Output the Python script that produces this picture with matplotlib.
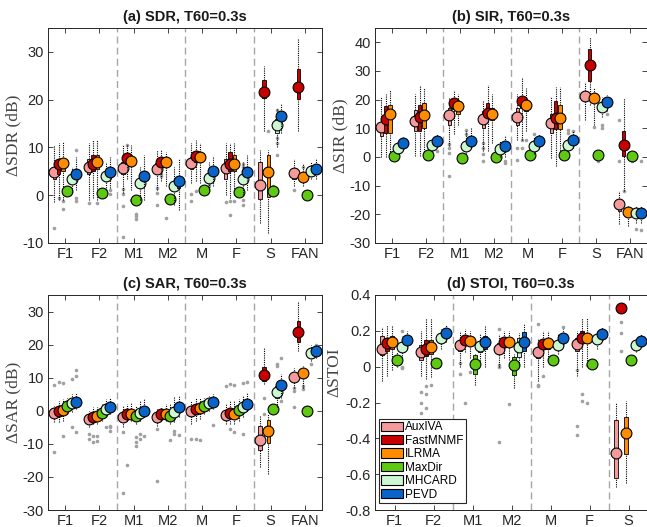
import numpy as np
import matplotlib
matplotlib.use('Agg')
import matplotlib.pyplot as plt
from matplotlib.patches import Patch

plt.rcParams['font.family'] = ['Liberation Sans', 'DejaVu Sans']

categories = ['F1', 'F2', 'M1', 'M2', 'M', 'F', 'S', 'FAN']
methods = ['AuxIVA', 'FastMNMF', 'ILRMA', 'MaxDir', 'MHCARD', 'PEVD']
colors = ['#f59a9a', '#c80000', '#ff8c00', '#5fc812', '#ccf7d2', '#0a64c8']

# (lo whisker, q1, median, q3, hi whisker) per method, per category
sdr = [
    [(-1.5, 3.5, 4.8, 6.0, 10.5), (-1, 4.5, 5.9, 7.5, 11), (0.5, 4.5, 5.6, 7.0, 10.5), (1, 4.5, 5.5, 6.8, 9.5),
     (2.5, 5.5, 6.8, 8.0, 11), (0, 3.5, 5.6, 7.5, 11), (-5.8, -0.8, 2.2, 7.0, 9.5), (2, 3.5, 4.7, 5.8, 7.5)],
    [(-1, 4.5, 6.5, 7.5, 11), (-0.5, 5, 6.6, 8.5, 11.5), (3.5, 6.5, 7.8, 8.5, 10.5), (3, 6, 7.0, 7.8, 9.5),
     (3, 7, 8.3, 9, 11.5), (-0.5, 5, 6.6, 9, 11), (13.5, 20.3, 21.6, 24.1, 27), (13.5, 20.1, 22.6, 26.4, 32.7)],
    [(-1, 5, 6.8, 7.5, 11.2), (-1, 5.5, 7.0, 8.5, 11.5), (1, 6.5, 7.2, 8.0, 10.5), (2, 6, 6.9, 7.5, 9),
     (2.5, 7, 8.1, 9, 11), (0, 5, 6.5, 8.5, 11), (-8, -0.4, 4.9, 8.4, 9.5), (2, 3, 3.8, 4.8, 6.5)],
    [(0, 0.5, 0.8, 1.2, 1.5), (0, 0.3, 0.5, 0.8, 1), (-1.5, -1.2, -1.0, -0.7, -0.3), (-1.5, -1, -0.7, -0.3, 0),
     (0.5, 0.8, 1.0, 1.3, 1.6), (0.2, 0.5, 0.7, 1.0, 1.3), (0.2, 0.5, 0.8, 1.0, 1.5), (-0.3, -0.1, 0.0, 0.1, 0.3)],
    [(0.5, 2.5, 3.3, 4.0, 6), (1, 3, 4.0, 5, 7), (-1, 1.5, 2.6, 3.5, 6), (-2, 1, 2.0, 3, 6),
     (1, 3, 3.7, 4.5, 7), (0, 2.5, 3.5, 4.5, 7), (10, 13, 14.6, 16, 18), (3.5, 4.5, 5.1, 5.8, 7)],
    [(1, 3.5, 4.5, 5.5, 8), (1.5, 4, 4.8, 5.5, 8), (-1, 3, 4.1, 5, 8.5), (-3, 1.5, 2.9, 4, 7.5),
     (2, 4, 5.0, 6, 8), (1, 4, 4.9, 6, 8.5), (13, 15.5, 16.5, 17.5, 19), (3.5, 4.7, 5.4, 6, 7.5)],
]
sir = [
    [(0, 7.5, 10.3, 12, 21), (0.5, 9, 12.4, 16.5, 22), (4, 11, 14.5, 17, 21), (2, 10, 13.4, 16, 20),
     (6, 11, 13.9, 17, 22), (-0.5, 8.5, 11.9, 15, 21), (13, 19.5, 21.2, 23, 26), (-23.5, -19, -16.3, -15, -12)],
    [(0, 8.4, 13.4, 17.7, 22), (0.5, 9, 14.0, 18, 25), (8, 16.6, 18.7, 20.3, 23.5), (2, 14.8, 15.4, 18.9, 25),
     (6, 17, 19.4, 21, 28), (-3, 9.6, 13.6, 19.5, 24.5), (18, 26.5, 32.0, 37.5, 42), (-12, 0.2, 4.1, 9, 20.5)],
    [(0.5, 8.4, 15.0, 18.3, 23.5), (1, 10.1, 14.5, 18.7, 24), (11, 15, 17.7, 19.5, 22), (5, 13, 14.9, 17, 22),
     (9, 16, 18.0, 20, 24), (0, 9.6, 13.6, 18, 24.5), (11, 19, 20.5, 22, 24), (-24, -21, -19.2, -18, -17)],
    [(-0.5, 0, 0.2, 0.5, 1), (0, 0.4, 0.7, 1, 1.5), (-1, -0.7, -0.4, -0.1, 0.3), (-0.8, -0.4, -0.1, 0.2, 0.6),
     (0, 0.4, 0.7, 1, 1.5), (0, 0.5, 0.8, 1.1, 1.5), (0, 0.5, 0.8, 1.1, 1.5), (-0.2, 0.2, 0.5, 0.8, 1.2)],
    [(1, 2.5, 3.3, 4, 5.5), (2.5, 3.5, 4.3, 5, 6), (1, 3, 4.0, 5, 9), (0, 2, 2.8, 3.5, 5.5),
     (1, 3, 4.0, 5, 7), (2, 3.3, 4.1, 5, 7), (14, 16.5, 17.5, 18.5, 21), (-23, -20.5, -19.6, -18.5, -17)],
    [(3, 4, 4.9, 5.8, 7), (3.5, 5, 5.7, 6.5, 8), (3, 4.8, 5.6, 6.5, 10.5), (0, 3, 3.7, 4.5, 7.5),
     (3, 5, 5.7, 6.5, 8), (3, 5, 5.9, 7, 9), (16, 18.2, 19.1, 20, 21.5), (-23, -20.5, -19.7, -18.5, -17)],
]
sar = [
    [(-3.5, -1.5, -0.6, 0.5, 1.5), (-5, -3.5, -2.4, -1.5, 0), (-5, -3, -2.0, -1, 1.5), (-4.5, -3, -2.0, -1, 0.5),
     (-4, -1.5, -0.2, 1, 3), (-4, -2.5, -1.4, -0.5, 2), (-17, -12, -8.8, -4.5, -1.5), (7, 9, 10.3, 11.5, 13)],
    [(-3.5, -1, 0.0, 1.5, 3), (-4, -3, -2.0, -1, 1), (-3, -2, -1.0, 0, 2), (-3, -2, -1.0, 0, 1),
     (-3, -0.5, 0.6, 2, 4), (-4, -1.5, -0.7, 0.5, 3), (8, 9.1, 10.7, 13.1, 19.2), (18, 20.9, 23.9, 27, 33)],
    [(-3, -1, 0.2, 1.5, 3.5), (-4, -2.5, -1.6, -0.5, 1), (-3, -2, -1.0, 0, 2.5), (-3, -2, -1.0, 0, 2),
     (-2.5, -0.5, 0.8, 2, 4), (-4, -2, -0.9, 0.5, 3), (-19, -9.6, -6.0, -2.8, -1), (7, 10, 11.5, 12.5, 13.5)],
    [(-1, 0.5, 1.5, 2.5, 4), (-3, -1.5, -0.6, 0.5, 2), (-4, -2.5, -1.6, -0.5, 1.5), (-4, -2.5, -1.5, -0.5, 2),
     (-1, 0.5, 1.5, 2.5, 4), (-3, -1, 0.1, 1.5, 3.5), (-0.5, 0.2, 0.6, 1.0, 1.5), (-0.5, -0.2, 0.0, 0.2, 0.5)],
    [(-0.5, 1.5, 2.4, 3.5, 5), (-1.5, -0.5, 0.5, 1.5, 3.5), (-3, -1.5, -0.8, 0.5, 3), (-3.5, -1.5, -0.4, 1, 4.5),
     (0, 1.5, 2.2, 3, 4.5), (-2, 0, 1.1, 2, 4.5), (1, 4, 5.7, 7.5, 9), (15, 16.5, 17.4, 18.5, 20)],
    [(0.5, 2, 2.8, 3.5, 5.5), (-1, 0.5, 1.2, 2, 4), (-2, -0.8, 0.0, 1, 3.5), (-2, 0, 1.1, 2, 4.5),
     (0.5, 2, 2.7, 3.5, 5), (0, 1, 1.9, 3, 5.5), (4, 6.5, 7.8, 9, 11), (16, 17.5, 18.2, 19, 20)],
]
stoi = [
    [(-0.08, 0.065, 0.10, 0.17, 0.22), (-0.05, 0.04, 0.08, 0.12, 0.2), (0.0, 0.09, 0.12, 0.15, 0.2), (0.0, 0.07, 0.10, 0.13, 0.18),
     (-0.08, 0.05, 0.08, 0.11, 0.16), (-0.05, 0.09, 0.125, 0.16, 0.2), (-0.67, -0.62, -0.48, -0.30, -0.2), (-0.3, -0.2, -0.15, -0.1, 0)],
    [(-0.05, 0.09, 0.13, 0.16, 0.23), (-0.07, 0.06, 0.10, 0.15, 0.27), (0.08, 0.13, 0.15, 0.17, 0.21), (0.05, 0.12, 0.14, 0.16, 0.2),
     (0.0, 0.1, 0.125, 0.15, 0.2), (0.0, 0.13, 0.16, 0.2, 0.27), (0.31, 0.32, 0.33, 0.34, 0.35), (0.1, 0.2, 0.25, 0.3, 0.35)],
    [(-0.02, 0.1, 0.14, 0.17, 0.23), (-0.06, 0.07, 0.11, 0.15, 0.27), (0.05, 0.12, 0.145, 0.17, 0.2), (0.04, 0.11, 0.135, 0.16, 0.2),
     (0.03, 0.1, 0.13, 0.15, 0.2), (0.02, 0.13, 0.16, 0.19, 0.27), (-0.65, -0.49, -0.37, -0.28, -0.19), (-0.3, -0.2, -0.15, -0.1, 0)],
    [(0.0, 0.02, 0.04, 0.06, 0.08), (0.0, 0.01, 0.02, 0.03, 0.05), (-0.1, -0.04, 0.015, 0.065, 0.07), (-0.12, -0.045, 0.01, 0.055, 0.07),
     (0.02, 0.03, 0.04, 0.05, 0.06), (0.0, 0.01, 0.015, 0.025, 0.04), (0.02, 0.03, 0.035, 0.04, 0.05), (0.0, 0.01, 0.02, 0.03, 0.04)],
    [(0.05, 0.09, 0.11, 0.13, 0.17), (0.1, 0.14, 0.16, 0.18, 0.21), (0.03, 0.08, 0.115, 0.14, 0.18), (0.0, 0.055, 0.11, 0.16, 0.19),
     (0.07, 0.1, 0.12, 0.14, 0.18), (0.1, 0.14, 0.155, 0.17, 0.2), (0.08, 0.1, 0.12, 0.14, 0.16), (-0.2, -0.1, -0.05, 0, 0.05)],
    [(0.1, 0.13, 0.15, 0.17, 0.2), (0.14, 0.17, 0.19, 0.2, 0.23), (0.0, 0.1, 0.14, 0.17, 0.23), (0.0, 0.085, 0.14, 0.195, 0.24),
     (0.12, 0.14, 0.16, 0.18, 0.21), (0.15, 0.17, 0.185, 0.2, 0.22), (0.11, 0.13, 0.145, 0.16, 0.18), (-0.2, -0.1, -0.05, 0, 0.05)],
]

# outliers: (category index, method index, value)
sdr_out = [(0, 0, -6.8), (0, 1, -0.5), (0, 2, -2.9), (0, 2, -1.3), (0, 5, -0.6), (0, 5, -1.3), (0, 5, 9.5),
           (1, 0, -1.7), (1, 2, -1.7), (1, 4, 0.5), (1, 5, 1.0), (1, 5, 0.3),
           (2, 0, -2.3), (2, 0, -8.8), (2, 0, 1.2), (2, 0, 0.3), (2, 1, 10.5), (2, 2, -1.0),
           (2, 3, -4.3), (2, 3, -5.0), (2, 3, -3.9), (2, 3, -1.2),
           (3, 0, -2.0), (3, 0, 0.5), (3, 0, 1.5), (3, 1, 4.5), (3, 1, 4.0), (3, 2, -4.7), (3, 2, -0.7), (3, 4, -1.0),
           (4, 0, -1.2), (4, 0, 0.3), (4, 1, 0.8), (4, 4, 2.5), (4, 4, 2.0),
           (5, 0, -1.5), (5, 1, -4.2), (5, 1, -1.3), (5, 2, -1.2), (5, 4, 6.5), (5, 4, 6.0), (5, 4, -1.0), (5, 4, -2.0),
           (6, 4, 17.8), (6, 4, 12.0), (6, 4, 11.0), (6, 4, 8.5), (6, 2, 13.5), (6, 3, 2.0),
           (7, 0, 1.0), (7, 0, 5.3), (7, 2, 6.0)]
sir_out = [(1, 5, 2.0), (2, 0, -6.8), (2, 0, 3.0), (2, 0, 4.5), (2, 0, 1.5), (2, 4, 9.5), (2, 4, 8.0), (2, 3, 1.0),
           (3, 0, -1.5), (3, 0, 1.0), (3, 0, 3.0), (3, 0, 5.0), (3, 5, -1.5), (3, 5, -2.0),
           (4, 0, -1.0), (4, 0, 3.0), (4, 1, 3.0), (4, 1, 6.0), (4, 2, 6.0), (4, 4, 8.0),
           (5, 4, 9.5), (5, 4, 8.5), (5, 3, -0.5), (5, 5, 9.0),
           (6, 2, 10.5), (6, 4, 10.0), (6, 4, 11.0), (6, 5, 15.0), (6, 3, -1.5),
           (7, 0, 13.0), (7, 0, -1.5), (7, 1, -12.0), (7, 3, -1.3), (7, 5, -1.5), (7, 5, -25.5), (7, 4, -25.0)]
sar_out = [(0, 0, -12.5), (0, 0, 7.8), (0, 1, 8.8), (0, 2, 8.4), (0, 2, -7.5), (0, 4, 9.5), (0, 4, -5.0),
           (0, 5, 10.4), (0, 5, 12.3), (0, 5, -6.5),
           (1, 0, -7.0), (1, 0, -8.5), (1, 1, -9.5), (1, 1, -7.5), (1, 2, -9.0), (1, 2, -7.5), (1, 4, -5.0),
           (1, 5, -6.0), (1, 5, -5.0), (1, 5, -4.5),
           (2, 0, -24.8), (2, 0, -6.5), (2, 1, -16.3), (2, 3, -10.5), (2, 3, -9.5), (2, 3, -8.0), (2, 4, -7.0),
           (2, 4, -8.5), (2, 5, -7.5),
           (3, 0, -21.3), (3, 0, -5.5), (3, 3, -8.8), (3, 4, -6.0), (3, 4, -7.0), (3, 5, -7.3),
           (4, 0, -8.5), (4, 1, -8.5), (4, 2, -8.7), (4, 5, -4.2),
           (5, 0, 7.5), (5, 1, 8.0), (5, 2, 7.8), (5, 4, 8.5), (5, 5, 8.6), (5, 1, -5.5), (5, 2, -6.5), (5, 4, -7.0),
           (6, 1, 4.0), (6, 1, -1.0), (6, 4, 14.0), (6, 4, 13.5), (6, 5, 16.0), (6, 5, 3.0),
           (7, 0, 1.2), (7, 0, 6.0), (7, 0, 7.0), (7, 2, 6.5), (7, 2, 7.5), (7, 4, 14.0), (7, 5, 20.0)]
stoi_out = [(0, 4, 0.2), (0, 4, 0.0), (0, 4, -0.01),
            (1, 0, -0.14), (1, 0, -0.2), (1, 0, -0.26), (1, 1, -0.11), (1, 1, -0.15), (1, 1, -0.23), (1, 2, -0.1),
            (2, 0, -0.04), (2, 0, 0.02), (2, 0, -0.47), (2, 1, -0.2), (2, 2, -0.03),
            (3, 0, -0.42), (3, 0, 0.21), (3, 0, 0.0), (3, 0, 0.01), (3, 2, -0.21),
            (4, 0, -0.1), (4, 0, -0.11), (4, 0, 0.24), (4, 1, -0.05), (4, 5, 0.22),
            (5, 0, -0.33), (5, 0, -0.38), (5, 0, -0.02), (5, 1, -0.15), (5, 1, -0.19), (5, 2, -0.2), (5, 2, 0.01),
            (6, 1, 0.25), (6, 1, 0.19), (6, 1, 0.09)]

W, H = 647, 527
fig = plt.figure(figsize=(W / 100, H / 100), dpi=100)


def make_ax(left, top, width, height):
    return fig.add_axes([left / W, (H - top - height) / H, width / W, height / H])


def panel(ax, stats, outliers, title, ylabel, ylim, yticks, ytick_labels):
    x = np.arange(1, len(categories) + 1)
    step = 0.125
    for c, m, v in outliers:
        ax.plot(x[c] + (m - 2.5) * step, v, 'o', ms=2.6, color='#a0a0a0', mec='none', zorder=2)
    for i, (name, col) in enumerate(zip(methods, colors)):
        s = np.array(stats[i])
        xs = x + (i - 2.5) * step
        z = 10 + 3 * i
        ax.vlines(xs, s[:, 0], s[:, 1], colors='k', linestyles=(0, (1, 1)), lw=0.8, zorder=z)
        ax.vlines(xs, s[:, 3], s[:, 4], colors='k', linestyles=(0, (1, 1)), lw=0.8, zorder=z)
        ax.bar(xs, s[:, 3] - s[:, 1], bottom=s[:, 1], width=0.1, color=col, edgecolor='k',
               lw=0.6, zorder=z + 1)
        ax.plot(xs, s[:, 2], 'o', ms=7.8, mfc=col, mec='k', mew=0.8, zorder=z + 2)
    for sep in [2.5, 4.5, 6.5]:
        ax.axvline(sep, color='#a6a6a6', ls=(0, (5, 3)), lw=1.0, zorder=1)
    ax.set_xlim(0.5, len(categories) + 0.5)
    ax.set_xticks(x)
    ax.set_xticklabels(categories)
    ax.set_ylim(*ylim)
    ax.set_yticks(yticks)
    ax.set_yticklabels(ytick_labels)
    ax.tick_params(direction='in', length=3.5, width=0.6, top=True, right=True,
                   labelsize=10.5, colors='#262626', pad=3)
    for sp in ax.spines.values():
        sp.set_color('#262626')
        sp.set_linewidth(0.7)
    ax.set_title(title, fontsize=10.5, fontweight='bold', pad=5, color='#1a1a1a')
    ax.set_ylabel(ylabel, family=['Liberation Serif', 'DejaVu Serif'], fontsize=12.5,
                  color='#444444', labelpad=1)


ax_a = make_ax(48, 28, 274, 215)
panel(ax_a, sdr, sdr_out, '(a) SDR, T60=0.3s', '\u0394SDR (dB)', (-10, 35),
      [-10, 0, 10, 20, 30], ['-10', '0', '10', '20', '30'])

ax_b = make_ax(375, 28, 272, 215)
panel(ax_b, sir, sir_out, '(b) SIR, T60=0.3s', '\u0394SIR (dB)', (-30, 45),
      [-30, -20, -10, 0, 10, 20, 30, 40], ['-30', '-20', '-10', '0', '10', '20', '30', '40'])

ax_c = make_ax(48, 295, 274, 215)
panel(ax_c, sar, sar_out, '(c) SAR, T60=0.3s', '\u0394SAR (dB)', (-30, 35),
      [-30, -20, -10, 0, 10, 20, 30], ['-30', '-20', '-10', '0', '10', '20', '30'])

ax_d = make_ax(375, 295, 312, 215)
panel(ax_d, stoi, stoi_out, '(d) STOI, T60=0.3s', '\u0394STOI', (-0.8, 0.4),
      [-0.8, -0.6, -0.4, -0.2, 0, 0.2, 0.4], ['-0.8', '-0.6', '-0.4', '-0.2', '0', '0.2', '0.4'])
ax_d.title.set_position((272 / 2 / 312, 1.0))
ax_d.yaxis.set_label_coords(-0.105, 0.64)

handles = [Patch(facecolor=c, edgecolor='k', lw=0.8) for c in colors]
leg = ax_d.legend(handles, methods, loc='lower left', bbox_to_anchor=(0.013, 0.033),
                  borderaxespad=0, fontsize=8.5, handlelength=1.8, handleheight=0.85,
                  handletextpad=0.2, labelspacing=0.12, borderpad=0.2, fancybox=False,
                  framealpha=1, edgecolor='#262626')
leg.get_frame().set_linewidth(0.8)
leg.set_zorder(50)

fig.savefig('out.png', dpi=100)
